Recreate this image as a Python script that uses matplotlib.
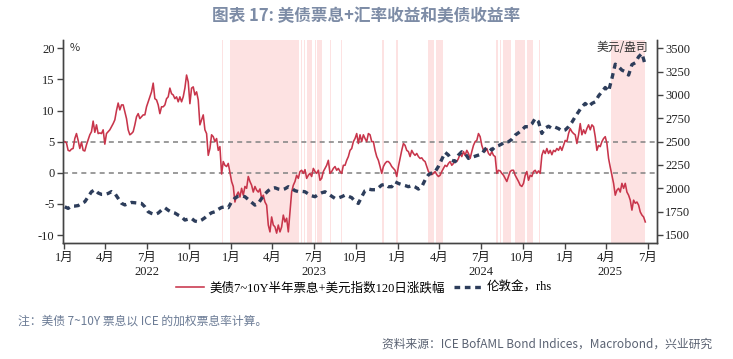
import matplotlib
matplotlib.use("Agg")
import matplotlib.pyplot as plt
import matplotlib.dates as mdates
from matplotlib.ticker import FuncFormatter
import pandas as pd

plt.rcParams['font.family'] = ['Noto Sans CJK SC', 'DejaVu Sans']
plt.rcParams['axes.unicode_minus'] = False

# ---------------- data ----------------
title = "图表 17: 美债票息+汇率收益和美债收益率"
red_label = "美债7~10Y半年票息+美元指数120日涨跌幅"
gold_label = "伦敦金，rhs"
note = "注：美债 7~10Y 票息以 ICE 的加权票息率计算。"
source = "资料来源：ICE BofAML Bond Indices，Macrobond，兴业研究"
left_unit = "%"
right_unit = "美元/盎司"

series_start = "2022-01-02"
series_end = "2025-06-26"

# 美债票息+美元指数120日涨跌幅 (%) (~every 3.65 days)
coupon_fx = [
    5.0, 4.8, 3.6, 3.5, 3.8, 3.9, 5.5, 6.3, 5.2, 3.9, 4.9, 3.6, 3.5, 4.5, 5.3, 6.1,
    6.6, 8.3, 6.5, 7.7, 6.3, 6.4, 6.3, 6.9, 4.6, 6.3, 6.6, 6.9, 7.4, 7.9, 8.5, 10.0,
    11.2, 10.1, 10.9, 10.9, 9.8, 8.7, 6.9, 6.1, 6.3, 6.6, 7.7, 9.0, 9.5, 8.7, 9.0, 9.3,
    9.3, 10.6, 11.4, 12.2, 13.0, 14.4, 11.9, 11.7, 10.9, 9.5, 10.6, 10.6, 10.9, 11.9, 12.2, 13.6,
    12.7, 12.5, 11.9, 12.2, 11.4, 12.2, 11.4, 12.2, 13.6, 15.7, 14.6, 11.1, 13.6, 13.8, 12.5, 13.0,
    11.7, 7.7, 8.5, 9.3, 6.9, 6.3, 2.8, 3.9, 6.1, 5.8, 5.0, 5.5, 3.6, 4.2, -0.2, 1.8,
    # 2023
    1.2, 1.0, 1.5, 0.0, -1.4, -2.2, -4.7, -3.6, -3.1, -3.9, -2.5, -3.6, -2.2, -2.5, -0.6, -1.4,
    -2.0, -3.1, -2.2, -2.8, -3.1, -2.6, -4.1, -3.6, -4.7, -5.2, -8.4, -9.5, -7.1, -8.4, -8.7, -9.7,
    -8.4, -9.5, -8.7, -6.8, -7.9, -7.3, -9.5, -6.3, -3.1, -2.0, -1.4, -0.4, -0.9, 0.2, 0.4, -0.1,
    0.5, -0.9, -0.4, -0.1, -0.6, 0.7, 0.2, -0.1, 0.4, -1.2, -0.9, 0.2, 0.7, 1.2, 2.0, -0.1,
    0.2, 0.7, 1.0, 0.4, 0.7, 0.2, -0.1, 1.2, 1.2, 2.0, 2.6, 3.6, 3.9, 5.0, 5.5, 6.3,
    4.7, 6.1, 5.0, 6.1, 5.5, 5.0, 6.3, 6.1, 5.0, 5.0, 3.6, 2.6, 2.0, 1.0, -0.1, 1.0,
    1.5, 1.8, 1.8, 1.5, 1.0, 0.7,
    # 2024
    0.4, -0.6, 1.0, 2.3, 3.6, 4.7, 4.4, 3.6, 3.4, 2.6, 3.6, 3.1, 2.8, 3.1, 2.6, 2.3,
    2.4, 2.0, 1.8, 1.0, 0.2, -0.1, -0.3, -0.1, 0.2, -0.3, -0.6, -0.4, 0.2, 0.7, 1.2, 1.0,
    1.5, 1.8, 1.2, 1.5, 2.0, 1.8, 2.3, 3.1, 2.6, 3.4, 2.8, 3.6, 3.1, 2.3, 3.4, 4.4,
    5.0, 5.2, 6.3, 5.8, 4.4, 3.6, 3.4, 3.9, 3.1, 2.8, 3.4, 2.8, 2.6, -0.1, 0.4, 0.3,
    -0.1, -0.4, -0.9, -1.4, -0.6, 0.2, 0.4, 0.4, -0.4, -0.9, -1.4, -2.0, -2.2, -1.7, -0.4, 0.2,
    -1.2, -0.4, -0.6, 0.2, 0.4, -0.1, 0.3, -0.1, 2.8, 3.6, 3.1, 3.9, 3.1, 3.6, 2.9, 3.6,
    3.4, 3.9, 3.6,
    # 2025
    4.2, 3.6, 4.4, 5.2, 5.0, 6.3, 7.1, 6.6, 6.3, 6.1, 4.7, 6.1, 7.9, 6.1, 6.9, 6.3,
    7.1, 7.7, 6.9, 7.7, 7.4, 5.8, 3.6, 4.4, 4.2, 5.0, 5.5, 5.8, 4.7, 2.3, 0.9, -0.4,
    -1.7, -3.6, -2.8, -2.5, -3.1, -1.7, -2.5, -1.7, -3.1, -3.6, -4.4, -6.0, -4.4, -4.9, -4.7, -5.2,
    -6.3, -6.8, -7.1, -7.9,
]

# 伦敦金 (USD/oz) (~weekly)
gold = [
    1802, 1785, 1810, 1810, 1815, 1838, 1856, 1910, 1963, 1985, 1950, 1935, 1935, 1945, 1965, 1945,
    1892, 1840, 1822, 1835, 1849, 1845, 1842, 1838, 1802, 1749, 1731, 1720, 1735, 1767, 1792, 1765,
    1745, 1735, 1713, 1695, 1660, 1670, 1677, 1649, 1642, 1660, 1685, 1715, 1738, 1749, 1775, 1795,
    1802, 1792, 1856, 1895, 1915, 1920, 1910, 1880, 1850, 1820, 1838, 1892, 1940, 1975, 1999, 2006,
    1992, 1985, 1995, 2017, 1999, 1975, 1965, 1968, 1963, 1940, 1920, 1910, 1935, 1952, 1963, 1940,
    1915, 1892, 1897, 1910, 1927, 1915, 1900, 1860, 1838, 1910, 1975, 1992, 1985, 1985, 2005, 2035,
    2042, 2017, 2017,
    2070, 2052, 2040, 2030, 2017, 2030, 2015, 1992, 2017, 2090, 2145, 2165, 2177, 2235, 2310, 2385,
    2356, 2302, 2285, 2356, 2392, 2374, 2320, 2332, 2344, 2356, 2368, 2420, 2445, 2410, 2445, 2457,
    2475, 2499, 2499, 2525, 2570, 2595, 2625, 2660, 2660, 2690, 2749, 2713, 2588, 2645, 2665, 2642,
    2655, 2640,
    2615, 2625, 2660, 2707, 2767, 2820, 2874, 2909, 2874, 2909, 2927, 2990, 3035, 3080, 3040, 3177,
    3330, 3302, 3266, 3249, 3213, 3325, 3345, 3409, 3445, 3320,
]

# periods shaded on the chart (start, end)
shaded = [
    ("2022-12-13", "2022-12-15"), ("2022-12-30", "2023-05-30"), ("2023-06-03", "2023-06-06"),
    ("2023-06-09", "2023-06-13"), ("2023-06-16", "2023-06-28"), ("2023-07-03", "2023-07-05"),
    ("2023-07-08", "2023-07-20"), ("2023-08-06", "2023-08-07"), ("2023-08-30", "2023-09-02"),
    ("2023-11-28", "2023-12-01"), ("2023-12-28", "2024-01-01"), ("2024-03-08", "2024-03-20"),
    ("2024-03-25", "2024-04-10"), ("2024-08-04", "2024-08-07"), ("2024-08-12", "2024-08-15"),
    ("2024-08-19", "2024-09-05"), ("2024-09-14", "2024-10-06"), ("2024-10-10", "2024-10-23"),
    ("2024-10-31", "2024-11-02"), ("2024-11-05", "2024-11-08"), ("2025-04-11", "2025-06-26"),
]

left_ticks = [-10, -5, 0, 5, 10, 15, 20]
right_ticks = [1500, 1750, 2000, 2250, 2500, 2750, 3000, 3250, 3500]
ref_lines = [0, 5]
year_labels = [("2022", "2022-07-01"), ("2023", "2023-07-01"), ("2024", "2024-07-01"), ("2025", "2025-04-10")]

# ---------------- plot ----------------
red_dates = pd.date_range(series_start, series_end, periods=len(coupon_fx))
gold_dates = pd.date_range(series_start, series_end, periods=len(gold))

RED = "#c8354b"
NAVY = "#2d3d5b"
SHADE = "#fde2e2"
num_font = ['Liberation Serif', 'Noto Sans CJK SC']

fig = plt.figure(figsize=(7.33, 3.59), dpi=100)
ax = fig.add_axes([0.0859, 0.3223, 0.81, 0.5663])
ax2 = ax.twinx()   # drawn above ax (gold on top)

for s, e in shaded:
    ax.axvspan(pd.Timestamp(s), pd.Timestamp(e), color=SHADE, lw=0, zorder=0)

for v in ref_lines:
    ax.axhline(v, color="#8a8a8a", lw=1.2, ls=(0, (3, 2.5)), zorder=1)

l1, = ax.plot(red_dates, coupon_fx, color=RED, lw=1.15, zorder=3, label=red_label)
l2, = ax2.plot(gold_dates, gold, color=NAVY, lw=2.4, ls=(0, (1.7, 1.4)),
               dash_capstyle='butt', zorder=3, label=gold_label)

ax.set_xlim(pd.Timestamp("2021-12-29"), pd.Timestamp("2025-07-21"))
ax.set_ylim(-11.33, 21.33)
ax2.set_ylim(1411.1, 3588.9)
ax.set_yticks(left_ticks)
ax2.set_yticks(right_ticks)

ax.xaxis.set_major_locator(mdates.MonthLocator(bymonth=[1, 4, 7, 10]))
ax.xaxis.set_major_formatter(FuncFormatter(lambda x, p: f"{mdates.num2date(x).month}月"))

for a in (ax, ax2):
    a.spines['top'].set_visible(False)
    for sp in ('left', 'right', 'bottom'):
        a.spines[sp].set_color('#444444')
        a.spines[sp].set_linewidth(1.0)
    a.tick_params(direction='out', length=4, width=1, color='#444444', labelsize=9, labelcolor='#222222', pad=2)
    for lab in a.get_yticklabels() + a.get_xticklabels():
        lab.set_family(num_font)

for txt, d in year_labels:
    ax.text(pd.Timestamp(d), -0.141, txt, transform=ax.get_xaxis_transform(),
            ha='center', va='center', fontsize=9, family=num_font, color='#222222')

ax2.text(0.012, 0.985, left_unit, transform=ax2.transAxes, ha='left', va='top',
         fontsize=8, color='#333333')
ax2.text(0.985, 0.995, right_unit, transform=ax2.transAxes, ha='right', va='top',
         fontsize=8.5, color='#333333')

fig.legend(handles=[l1, l2], loc='center', bbox_to_anchor=(0.497, 0.198), ncol=2,
           frameon=False, handlelength=2.2, columnspacing=0.8, handletextpad=0.4,
           prop={'family': num_font, 'size': 9})

fig.text(0.5, 0.955, title, ha='center', va='center', fontsize=12, fontweight='bold', color='#7d8ca6')
fig.text(0.025, 0.105, note, ha='left', va='center', fontsize=8.5, color='#6b7b95')
fig.text(0.972, 0.04, source, ha='right', va='center', fontsize=8.5, color='#5a6272')

fig.savefig("out.png", dpi=100)
